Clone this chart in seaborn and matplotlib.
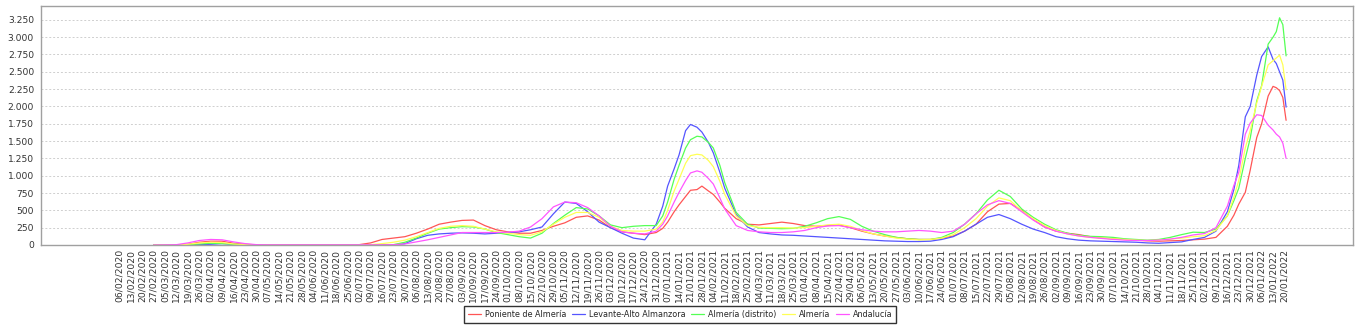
import matplotlib
matplotlib.use("Agg")
import matplotlib.pyplot as plt
from matplotlib.ticker import FuncFormatter
import pandas as pd
import seaborn as sns

# Fechas de muestreo (semanales, más densas en las olas de enero)
fechas = pd.to_datetime([
    # 2020
    "2020-02-27", "2020-03-05", "2020-03-12", "2020-03-19", "2020-03-26", "2020-04-02", "2020-04-09", "2020-04-16", "2020-04-23", "2020-04-30",
    "2020-05-07", "2020-05-14", "2020-05-21", "2020-05-28", "2020-06-04", "2020-06-11", "2020-06-18", "2020-06-25", "2020-07-02", "2020-07-09",
    "2020-07-16", "2020-07-23", "2020-07-30", "2020-08-06", "2020-08-13", "2020-08-20", "2020-08-27", "2020-09-03", "2020-09-10", "2020-09-17",
    "2020-09-24", "2020-10-01", "2020-10-08", "2020-10-15", "2020-10-22", "2020-10-29", "2020-11-05", "2020-11-12", "2020-11-19", "2020-11-26",
    "2020-12-03", "2020-12-10", "2020-12-17", "2020-12-24", "2020-12-31",
    # enero-febrero 2021
    "2021-01-04", "2021-01-07", "2021-01-11", "2021-01-14", "2021-01-18", "2021-01-21", "2021-01-25", "2021-01-28", "2021-02-01", "2021-02-04",
    "2021-02-08", "2021-02-11", "2021-02-18",
    # resto de 2021
    "2021-02-25", "2021-03-04", "2021-03-11", "2021-03-18", "2021-03-25", "2021-04-01", "2021-04-08", "2021-04-15", "2021-04-22", "2021-04-29",
    "2021-05-06", "2021-05-13", "2021-05-20", "2021-05-27", "2021-06-03", "2021-06-10", "2021-06-17", "2021-06-24", "2021-07-01", "2021-07-08",
    "2021-07-15", "2021-07-22", "2021-07-29", "2021-08-05", "2021-08-12", "2021-08-19", "2021-08-26", "2021-09-02", "2021-09-09", "2021-09-16",
    "2021-09-23", "2021-09-30", "2021-10-07", "2021-10-14", "2021-10-21", "2021-10-28", "2021-11-04", "2021-11-11", "2021-11-18", "2021-11-25",
    "2021-12-02", "2021-12-09", "2021-12-16",
    # sexta ola
    "2021-12-20", "2021-12-23", "2021-12-27", "2021-12-30", "2022-01-03", "2022-01-06", "2022-01-10", "2022-01-13", "2022-01-15", "2022-01-17",
    "2022-01-19", "2022-01-21",
])

poniente = [
    0, 0, 0, 10, 40, 55, 55, 25, 10, 3,
    0, 0, 0, 0, 0, 0, 0, 0, 5, 30,
    80, 100, 120, 170, 230, 300, 330, 355, 360, 280,
    220, 190, 170, 170, 210, 270, 320, 400, 420, 360,
    250, 190, 170, 150, 180,
    240, 330, 480, 580, 700, 790, 800, 850, 780, 730,
    620, 530, 380,
    300, 290, 310, 330, 310, 280, 270, 280, 290, 250,
    200, 160, 130, 110, 90, 80, 80, 100, 130, 200,
    300, 480, 590, 600, 500, 370, 260, 200, 170, 150,
    120, 100, 90, 80, 70, 60, 55, 60, 65, 75,
    85, 110, 270,
    430, 590, 760, 1080, 1550, 1750, 2150, 2290, 2270, 2230,
    2130, 1800,
]

levante = [
    0, 0, 0, 0, 5, 10, 20, 10, 3, 0,
    0, 0, 0, 0, 0, 0, 0, 0, 0, 0,
    0, 0, 20, 90, 140, 160, 170, 175, 170, 160,
    170, 180, 190, 220, 260, 450, 620, 600, 480, 330,
    250, 170, 100, 75, 300,
    560, 850, 1100, 1300, 1650, 1740, 1700, 1630, 1480, 1330,
    1050, 820, 440,
    260, 180, 160, 145, 140, 130, 120, 110, 100, 90,
    80, 70, 60, 55, 50, 50, 55, 80, 120, 200,
    300, 400, 440, 380, 300, 230, 180, 120, 90, 70,
    60, 55, 50, 45, 40, 30, 25, 35, 45, 80,
    110, 200, 480,
    800, 1150, 1850, 2000, 2450, 2720, 2860, 2680, 2620, 2500,
    2380, 1990,
]

distrito = [
    0, 0, 0, 3, 15, 25, 20, 10, 3, 0,
    0, 0, 0, 0, 0, 0, 0, 0, 0, 0,
    0, 5, 40, 100, 170, 230, 250, 265, 260, 230,
    180, 150, 120, 100, 170, 310, 430, 540, 520, 420,
    290, 250, 270, 280, 280,
    420, 620, 950, 1150, 1400, 1520, 1570, 1560, 1480, 1400,
    1150, 900, 470,
    300, 245, 240, 235, 240, 270, 320, 380, 410, 370,
    270, 200, 150, 110, 90, 80, 80, 110, 180, 300,
    450, 650, 790, 700, 520, 400, 300, 220, 170, 140,
    125, 120, 110, 90, 80, 70, 80, 110, 150, 185,
    180, 230, 420,
    640, 820, 1250, 1540, 2080, 2300, 2900, 3000, 3080, 3280,
    3180, 2730,
]

almeria = [
    0, 0, 0, 10, 30, 40, 35, 15, 5, 0,
    0, 0, 0, 0, 0, 0, 0, 0, 0, 5,
    20, 40, 70, 120, 180, 240, 270, 280, 270, 230,
    190, 170, 150, 140, 190, 300, 400, 470, 470, 400,
    270, 210, 200, 200, 230,
    330, 500, 780, 950, 1180, 1290, 1310, 1300, 1220, 1130,
    920, 730, 420,
    280, 255, 250, 250, 245, 250, 270, 290, 300, 270,
    210, 160, 130, 100, 85, 75, 80, 100, 150, 250,
    380, 560, 680, 640, 490, 380, 280, 210, 160, 130,
    110, 100, 90, 80, 70, 65, 70, 85, 100, 120,
    135, 210, 420,
    690, 930, 1400, 1650, 2050, 2290, 2600, 2660, 2700, 2740,
    2600, 2240,
]

andalucia = [
    0, 2, 5, 30, 65, 80, 75, 45, 20, 5,
    3, 3, 3, 3, 3, 3, 3, 3, 3, 3,
    3, 5, 15, 45, 75, 110, 145, 180, 180, 180,
    180, 185, 200, 260, 380, 550, 620, 610, 540, 420,
    270, 190, 170, 160, 200,
    300, 420, 620, 760, 930, 1040, 1070, 1050, 960, 880,
    680, 520, 280,
    210, 190, 180, 180, 190, 210, 250, 275, 280, 250,
    220, 200, 190, 190, 200, 210, 200, 180, 200, 300,
    450, 580, 640, 600, 480, 360, 260, 200, 160, 130,
    110, 95, 80, 70, 65, 65, 70, 85, 110, 145,
    165, 250, 560,
    860, 1050, 1600, 1760, 1880, 1870, 1730, 1660, 1600, 1560,
    1470, 1250,
]

zonas = ["Poniente de Almería", "Levante-Alto Almanzora", "Almería (distrito)", "Almería", "Andalucía"]
colores = ["#ff5555", "#5555ff", "#55ff55", "#ffff55", "#ff55ff"]
series = [poniente, levante, distrito, almeria, andalucia]

# Etiquetas semanales del eje de fechas
etiquetas = pd.date_range("2020-02-06", "2022-01-20", freq="7D")

df = pd.DataFrame({"fecha": fechas})
for nombre, valores in zip(zonas, series):
    df[nombre] = valores
largo = df.melt(id_vars="fecha", var_name="zona", value_name="casos")

sns.set_style("white")
plt.rcParams["font.family"] = ["DejaVu Sans"]

fig = plt.figure(figsize=(13.62, 3.25), dpi=100)
ax = fig.add_axes([41 / 1362, 80 / 325, 1312 / 1362, 239 / 325])

sns.lineplot(data=largo, x="fecha", y="casos", hue="zona", hue_order=zonas,
             palette=colores, linewidth=0.9, estimator=None, ax=ax)

ax.set_xlim(pd.Timestamp("2019-12-20"), pd.Timestamp("2022-03-03"))
ax.set_ylim(0, 3450)
ax.set_yticks(range(0, 3251, 250))
ax.yaxis.set_major_formatter(FuncFormatter(lambda v, p: f"{v:,.0f}".replace(",", ".")))
ax.set_xticks(etiquetas)
ax.set_xticklabels([d.strftime("%d/%m/%Y") for d in etiquetas], rotation=90)
ax.tick_params(axis="x", length=0, pad=3, labelsize=6.6, labelcolor="#333333")
ax.tick_params(axis="y", length=2, width=0.8, color="#999999", pad=3, labelsize=6.6, labelcolor="#333333")
ax.set_xlabel("")
ax.set_ylabel("")
ax.yaxis.grid(True, color="#cfcfcf", linestyle=(0, (2, 2)), linewidth=0.7)
ax.xaxis.grid(False)
ax.set_axisbelow(True)
for sp in ax.spines.values():
    sp.set_color("#a0a0a0")
    sp.set_linewidth(1)

handles, labels = ax.get_legend_handles_labels()
ax.get_legend().remove()
leg = fig.legend(handles, labels, loc="center", bbox_to_anchor=(680 / 1362, 1 - 314.5 / 325),
                 ncol=5, fontsize=5.8, frameon=True, fancybox=False, edgecolor="black",
                 handlelength=1.6, handletextpad=0.5, columnspacing=0.7, borderpad=0.45)
leg.get_frame().set_linewidth(1.0)

fig.savefig("out.png", dpi=100)
